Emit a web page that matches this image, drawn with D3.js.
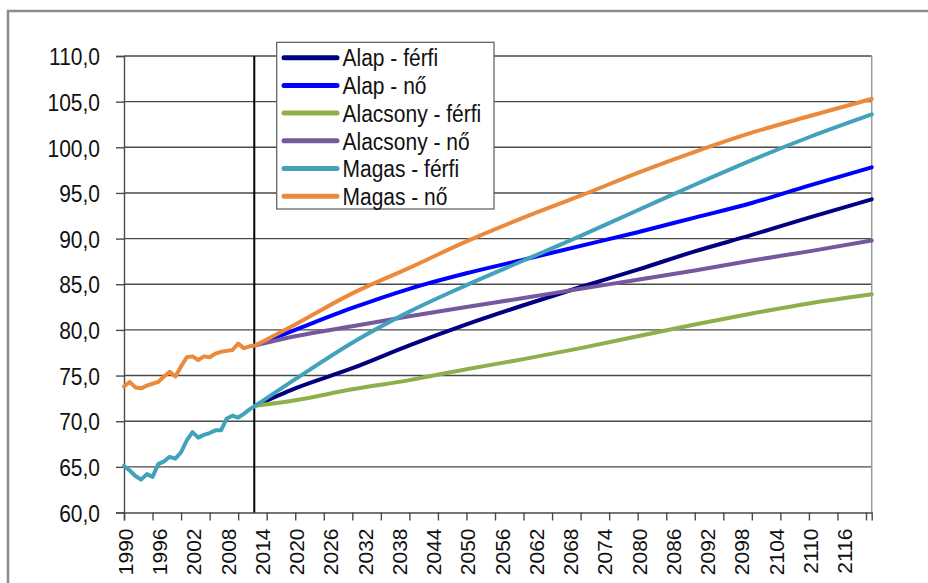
<!DOCTYPE html>
<html><head><meta charset="utf-8">
<script src="https://cdn.jsdelivr.net/npm/d3@7"></script>
<style>
html,body{margin:0;padding:0;background:#fff;}
svg text{font-family:"Liberation Sans",Arial,sans-serif;fill:#111;}
</style></head>
<body>
<svg id="chart" width="928" height="583"></svg>
<script>
// ---- data ----
const histYears = [1990,1991,1992,1993,1994,1995,1996,1997,1998,1999,2000,2001,2002,2003,2004,2005,2006,2007,2008,2009,2010,2011,2012];
const histFerfi = [65.1,64.6,64.0,63.6,64.2,63.9,65.3,65.6,66.1,65.9,66.6,67.9,68.8,68.2,68.5,68.7,69.0,69.0,70.3,70.6,70.4,70.8,71.3];
const histNo    = [73.8,74.3,73.7,73.6,73.9,74.1,74.3,74.9,75.4,74.9,76.0,77.0,77.1,76.7,77.1,77.0,77.4,77.6,77.7,77.8,78.5,78.0,78.2];

const projYears = [2013,2020,2030,2040,2050,2060,2070,2080,2090,2100,2110,2121];
const alapFerfi      = [71.7,73.6,75.8,78.3,80.6,82.7,84.7,86.6,88.6,90.4,92.3,94.3];
const alapNo         = [78.3,80.0,82.4,84.5,86.2,87.7,89.2,90.7,92.3,93.9,95.8,97.8];
const alacsonyFerfi  = [71.7,72.3,73.5,74.5,75.7,76.8,78.0,79.3,80.6,81.8,82.9,83.9];
const alacsonyNo     = [78.3,79.3,80.4,81.5,82.5,83.5,84.5,85.5,86.5,87.6,88.6,89.8];
const magasFerfi     = [71.7,74.6,78.6,82.0,84.9,87.6,90.3,93.1,95.9,98.6,101.1,103.6];
const magasNo        = [78.3,80.6,84.0,86.8,89.7,92.3,94.7,97.2,99.5,101.6,103.4,105.3];

const seriesNames  = ["Alap - férfi","Alap - nő","Alacsony - férfi","Alacsony - nő","Magas - férfi","Magas - nő"];
const seriesColors = ["#000080","#0000ff","#8fae4c","#76599d","#43a2bb","#ec8a3c"];

const yTicks = [60,65,70,75,80,85,90,95,100,105,110];
const xTickYears = d3.range(1990, 2121, 5);
const xLabelYears = [1990,1996,2002,2008,2014,2020,2026,2032,2038,2044,2050,2056,2062,2068,2074,2080,2086,2092,2098,2104,2110,2116];
const splitYear = 2013;
const firstYear = 1990, lastYear = 2121;

// ---- layout ----
const svg = d3.select("#chart");
const L = 124, R = 871.7, T = 56, B = 512.5;
const x = d3.scaleLinear().domain([firstYear, lastYear]).range([L, R]);
const y = d3.scaleLinear().domain([60, 110]).range([B, T]);

// outer border
svg.append("rect").attr("x", 8).attr("y", 11).attr("width", 940).attr("height", 600)
  .attr("fill", "#fff").attr("stroke", "#8c8c8c").attr("stroke-width", 2.5);

// gridlines
svg.append("g").selectAll("line").data(yTicks.filter(d => d > 60)).join("line")
  .attr("x1", L).attr("x2", R).attr("y1", d => y(d)).attr("y2", d => y(d))
  .attr("stroke", "#4a4a4a").attr("stroke-width", 1.4);

// plot frame right
svg.append("line").attr("x1", R).attr("x2", R).attr("y1", T).attr("y2", B)
  .attr("stroke", "#9a9a9a").attr("stroke-width", 1.5);

// y axis
const yAxis = d3.axisLeft(y).tickValues(yTicks).tickSize(8).tickPadding(0)
  .tickFormat(d => d3.format(".1f")(d).replace(".", ","));
const gy = svg.append("g").attr("transform", `translate(${L},0)`).call(yAxis);
gy.select(".domain").attr("stroke", "#4a4a4a").attr("stroke-width", 1.4);
gy.selectAll(".tick line").attr("stroke", "#4a4a4a").attr("stroke-width", 1.4);
gy.selectAll(".tick text").remove();
gy.selectAll(".tick").append("text")
  .attr("transform", "translate(-24,0) scale(1,1.15)")
  .attr("text-anchor", "end").attr("dy", "0.36em")
  .style("font-size", "21px").text(d => d3.format(".1f")(d).replace(".", ","));

// x axis
const xAxis = d3.axisBottom(x).tickValues(xTickYears).tickSize(8).tickFormat("");
const gx = svg.append("g").attr("transform", `translate(0,${B})`).call(xAxis);
gx.select(".domain").attr("stroke", "#4a4a4a").attr("stroke-width", 1.4);
gx.selectAll(".tick line").attr("stroke", "#4a4a4a").attr("stroke-width", 1.4);
svg.append("g").selectAll("text").data(xLabelYears).join("text")
  .attr("transform", d => `translate(${x(d) + 9},${B + 16}) scale(1,1.05) rotate(-90)`)
  .attr("text-anchor", "end").style("font-size", "20px").text(d => d);

// vertical split line
svg.append("line").attr("x1", x(splitYear) - 1).attr("x2", x(splitYear) - 1)
  .attr("y1", T).attr("y2", B).attr("stroke", "#000").attr("stroke-width", 2);

// series
const line = d3.line().x(d => x(d[0])).y(d => y(d[1])).curve(d3.curveMonotoneX);
const zip = (a, b) => a.map((v, i) => [v, b[i]]);
const seriesData = [
  zip(projYears, alapFerfi),
  zip(projYears, alapNo),
  zip(projYears, alacsonyFerfi),
  zip(projYears, alacsonyNo),
  zip(histYears, histFerfi).concat(zip(projYears, magasFerfi)),
  zip(histYears, histNo).concat(zip(projYears, magasNo))
];
const histLine = d3.line().x(d => x(d[0])).y(d => y(d[1]));
svg.append("g").selectAll("path").data(seriesData).join("path")
  .attr("d", (d, i) => i >= 4
      ? histLine(d.filter(p => p[0] <= splitYear)) + line(d.filter(p => p[0] >= splitYear)).replace(/^M/, "L")
      : line(d))
  .attr("fill", "none").attr("stroke", (d, i) => seriesColors[i])
  .attr("stroke-width", 4).attr("stroke-linejoin", "round").attr("stroke-linecap", "round");

// legend
const lg = svg.append("g");
lg.append("rect").attr("x", 276.7).attr("y", 42.3).attr("width", 217.3).attr("height", 166.7)
  .attr("fill", "#fff").attr("stroke", "#5a5a5a").attr("stroke-width", 1.2);
const rows = lg.selectAll("g.row").data(seriesNames).join("g").attr("class", "row")
  .attr("transform", (d, i) => `translate(0,${57.7 + i * 27.7})`);
rows.append("line").attr("x1", 284).attr("x2", 337).attr("y1", 0).attr("y2", 0)
  .attr("stroke", (d, i) => seriesColors[i]).attr("stroke-width", 5).attr("stroke-linecap", "round");
rows.append("text").attr("transform", "translate(342.5,0) scale(1,1.15)")
  .attr("dy", "0.36em").style("font-size", "21px").text(d => d);
</script>
</body></html>
